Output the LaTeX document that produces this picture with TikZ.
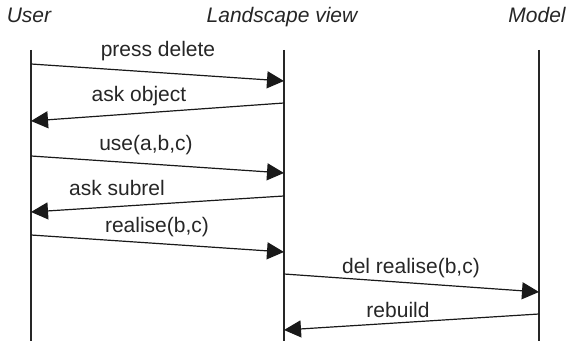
\documentclass[tikz,border=0pt]{standalone}
\usepackage{fontspec}
\setmainfont{Liberation Sans}
\usetikzlibrary{arrows.meta}
\begin{document}
\begin{tikzpicture}[x=0.5pt,y=-0.5pt,
  lifeline/.style={line width=0.55pt,draw=black!85},
  msg/.style={line width=0.6pt,draw=black!90,-{Triangle[length=8.5pt,width=8.5pt]}},
  lbl/.style={anchor=base,inner sep=0pt,font=\fontsize{10.5pt}{12pt}\selectfont,text=black!85},
  hdr/.style={anchor=base,inner sep=0pt,font=\fontsize{10.5pt}{12pt}\selectfont\itshape,text=black!85}]
\useasboundingbox (0,0) rectangle (567,341);
% headers
\node[hdr] (hU) at (29,23) {User};
\node[hdr] (hL) at (282,23) {Landscape view};
\node[hdr] (hM) at (537,23) {Model};
% lifelines
\coordinate (Ut) at (31,50); \coordinate (Ub) at (31,341);
\coordinate (Lt) at (284,50); \coordinate (Lb) at (284,341);
\coordinate (Mt) at (539,50); \coordinate (Mb) at (539,341);
\draw[lifeline] (Ut) -- (Ub);
\draw[lifeline] (Lt) -- (Lb);
\draw[lifeline] (Mt) -- (Mb);
% message endpoints
\coordinate (a1) at (31,64);  \coordinate (b1) at (284,81);
\coordinate (a2) at (284,103); \coordinate (b2) at (31,121);
\coordinate (a3) at (31,156); \coordinate (b3) at (284,173);
\coordinate (a4) at (284,196); \coordinate (b4) at (31,212);
\coordinate (a5) at (31,235); \coordinate (b5) at (284,252);
\coordinate (a6) at (284,274); \coordinate (b6) at (539,292);
\coordinate (a7) at (539,314); \coordinate (b7) at (284,330);
\draw[msg] (a1) -- (b1);
\draw[msg] (a2) -- (b2);
\draw[msg] (a3) -- (b3);
\draw[msg] (a4) -- (b4);
\draw[msg] (a5) -- (b5);
\draw[msg] (a6) -- (b6);
\draw[msg] (a7) -- (b7);
% labels
\node[lbl] (l1) at (158,57) {press delete};
\node[lbl] (l2) at (139,102) {ask object};
\node[lbl] (l3) at (146,151) {use(a,b,c)};
\node[lbl] (l4) at (117,196) {ask subrel};
\node[lbl] (l5) at (157,233) {realise(b,c)};
\node[lbl] (l6) at (411,274) {del realise(b,c)};
\node[lbl] (l7) at (398,318) {rebuild};
\end{tikzpicture}
\end{document}
